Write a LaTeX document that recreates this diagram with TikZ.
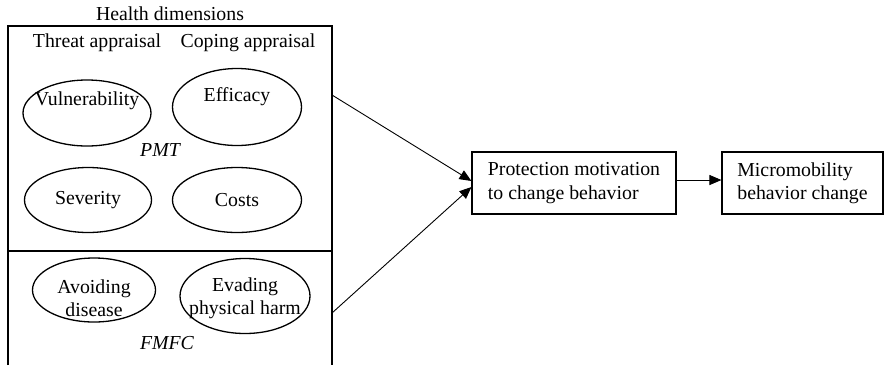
\documentclass[tikz,border=0pt]{standalone}
\usepackage{fontspec}
\setmainfont{Liberation Serif}
\usetikzlibrary{shapes.geometric,arrows.meta}

\begin{document}
\begin{tikzpicture}[x=0.5pt, y=-0.5pt,
        every node/.style={font=\fontsize{9.9}{11.6}\selectfont},
        dimension/.style={ellipse, draw, line width=0.65pt, inner sep=0pt},
        stage/.style={draw, line width=0.55pt, align=left, minimum height=31pt},
        flow/.style={-{Triangle[length=6pt,width=5pt]}, line width=0.45pt}]
        \useasboundingbox (0,0) rectangle (884,365);

        % Cadre : dimensions de santé
        \node (title) at (170,14) {Health dimensions};
        \draw [line width=0.55pt] (8,365) -- (8,26) -- (332,26) -- (332,365);
        \draw [line width=0.55pt] (8,251) -- (332,251);
        \node (threat) at (97,43) {Threat appraisal};
        \node (coping) at (248,43) {Coping appraisal};

        % PMT
        \node [dimension, minimum width=64pt, minimum height=33pt,
            label={[yshift=6pt]center:Vulnerability}] (vul) at (87,113) {};
        \node [dimension, minimum width=64.5pt, minimum height=38.5pt,
            label={[yshift=5pt]center:Efficacy}] (eff) at (237,107) {};
        \node [dimension, minimum width=63.5pt, minimum height=32.5pt,
            label=center:Severity] (sev) at (88,200) {};
        \node [dimension, minimum width=64.5pt, minimum height=32.5pt,
            label=center:Costs] (cost) at (237,200) {};
        \node [font=\fontsize{9.9}{11.6}\selectfont\itshape] (pmt) at (160,150) {PMT};

        % FMFC
        \node [dimension, minimum width=61.5pt, minimum height=32pt,
            label={[yshift=-4pt, align=center]center:Avoiding\\disease}] (avoid) at (94,290) {};
        \node [dimension, minimum width=65pt, minimum height=37.5pt,
            label={[yshift=-1pt, align=center]center:Evading\\physical harm}] (evade) at (245,296) {};
        \node [font=\fontsize{9.9}{11.6}\selectfont\itshape] (fmfc) at (167,343) {FMFC};

        % Motivation et comportement
        \node [stage, minimum width=102pt] (prot) at (574,183)
            {Protection motivation\\to change behavior};
        \node [stage, minimum width=80.5pt] (micro) at (802.5,183)
            {Micromobility\\behavior change};

        % Flèches
        \coordinate (pmtout) at (332,95);
        \coordinate (fmfcout) at (332,313);
        \draw [flow] (pmtout) -- ([yshift=1pt]prot.west);
        \draw [flow] (fmfcout) -- ([yshift=-2pt]prot.west);
        \draw [flow] ([yshift=1.5pt]prot.east) -- ([yshift=1.5pt]micro.west);
    \end{tikzpicture}
\end{document}
